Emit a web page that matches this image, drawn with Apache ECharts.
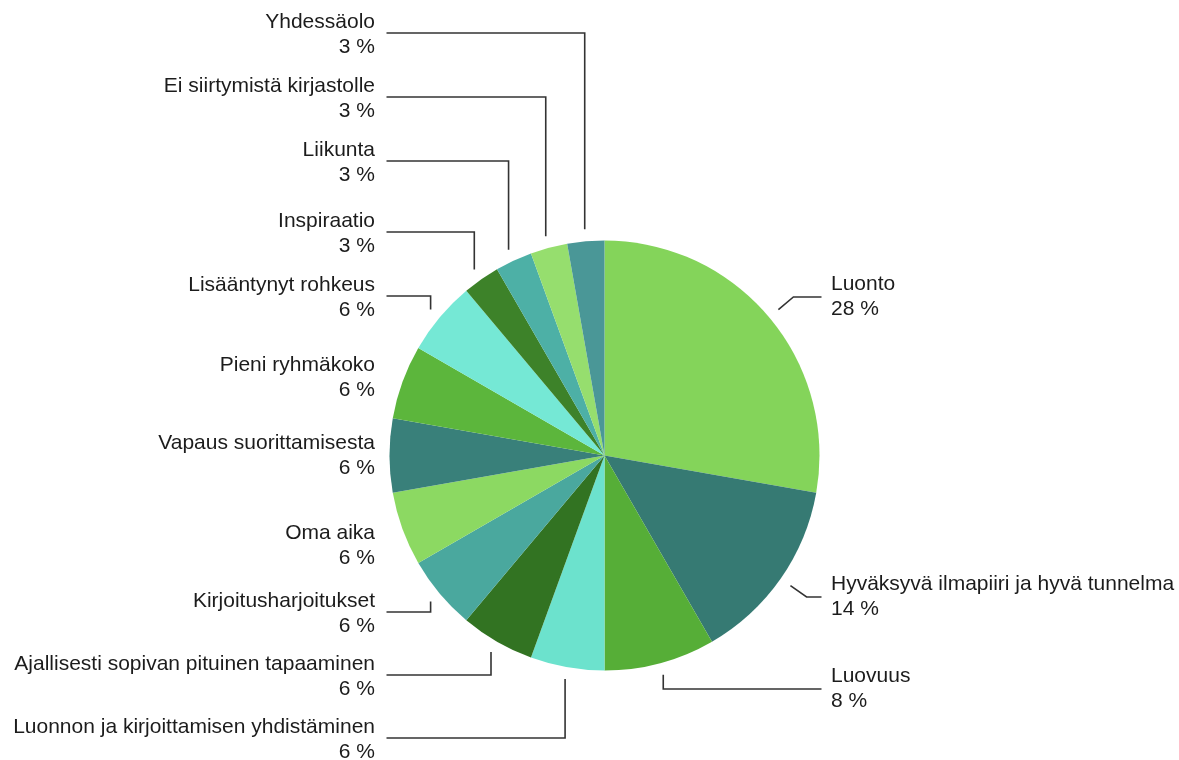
<!DOCTYPE html>
<html>
<head>
<meta charset="utf-8">
<script src="https://cdn.jsdelivr.net/npm/echarts@6/dist/echarts.min.js"></script>
<style>
html,body{margin:0;padding:0;background:#fff;}
#chart{width:1179px;height:760px;}
</style>
</head>
<body>
<div id="chart"></div>
<script>
// Data (counts of responses; shown as rounded percentages)
const categories = [
  "Luonto",
  "Hyväksyvä ilmapiiri ja hyvä tunnelma",
  "Luovuus",
  "Luonnon ja kirjoittamisen yhdistäminen",
  "Ajallisesti sopivan pituinen tapaaminen",
  "Kirjoitusharjoitukset",
  "Oma aika",
  "Vapaus suorittamisesta",
  "Pieni ryhmäkoko",
  "Lisääntynyt rohkeus",
  "Inspiraatio",
  "Liikunta",
  "Ei siirtymistä kirjastolle",
  "Yhdessäolo"
];
const values = [10, 5, 3, 2, 2, 2, 2, 2, 2, 2, 1, 1, 1, 1];

// Styling / layout (not data)
const colors = [
  "#84d45a", "#367a73", "#56ae37", "#6ce2cd", "#327322", "#4aa89e", "#8cd962",
  "#39807a", "#5cb63c", "#75e8d5", "#3d8229", "#4db0a6", "#96de6e", "#4a9797"
];
const labelCenterY = [297, 597, 689, 740, 677, 614, 546, 456, 378, 298, 234, 163, 99, 35];

const CX = 604.5, CY = 455.5, R = 215, LR = 227;
const LEFT_TEXT_X = 375, LEFT_LINE_X = 386.5;
const RIGHT_TEXT_X = 831, RIGHT_LINE_X = 821.5;

const total = values.reduce((a, b) => a + b, 0);
let cum = 0;
const geom = values.map((v) => {
  const mid = (cum + v / 2) / total * 2 * Math.PI;
  cum += v;
  const sx = Math.sin(mid), cy = -Math.cos(mid);
  const ax = CX + LR * sx, ay = CY + LR * cy;
  const right = sx > 0;
  return { mid, sx, cy, ax, ay, right };
});

const data = categories.map((name, i) => {
  const g = geom[i];
  const hide = !g.right && (g.ax - LEFT_LINE_X < 12);
  return {
    name: name,
    value: values[i],
    itemStyle: { color: colors[i] },
    labelLine: { show: !hide }
  };
});

const chart = echarts.init(document.getElementById('chart'));
chart.setOption({
  backgroundColor: '#ffffff',
  animation: false,
  series: [{
    type: 'pie',
    center: [CX, CY],
    radius: R,
    startAngle: 90,
    clockwise: true,
    avoidLabelOverlap: false,
    itemStyle: { borderWidth: 0 },
    label: {
      show: true,
      position: 'outside',
      color: '#1c1c1c',
      fontFamily: 'Liberation Sans, Arial, sans-serif',
      fontSize: 21,
      lineHeight: 25,
      formatter: function (p) {
        return p.name + '\n' + Math.round(p.value / total * 100) + ' %';
      }
    },
    labelLine: {
      show: true,
      smooth: false,
      lineStyle: { color: '#333333', width: 1.6 }
    },
    labelLayout: function (params) {
      const i = params.dataIndex;
      const g = geom[i];
      const ly = labelCenterY[i];
      if (g.right) {
        const lineY = ly;
        let bx = g.ax;
        const degMid = g.mid * 180 / Math.PI;
        if (degMid > 30 && degMid < 150) {
          const t = (lineY - g.ay) / g.cy;
          bx = g.ax + t * g.sx;
        }
        return {
          x: RIGHT_TEXT_X,
          y: ly,
          align: 'left',
          verticalAlign: 'middle',
          labelLinePoints: [[g.ax, g.ay], [bx, lineY], [RIGHT_LINE_X, lineY]]
        };
      } else {
        const lineY = ly - 2;
        return {
          x: LEFT_TEXT_X,
          y: ly,
          align: 'right',
          verticalAlign: 'middle',
          labelLinePoints: [[g.ax, g.ay], [g.ax, lineY], [LEFT_LINE_X, lineY]]
        };
      }
    },
    data: data
  }]
});
</script>
</body>
</html>
